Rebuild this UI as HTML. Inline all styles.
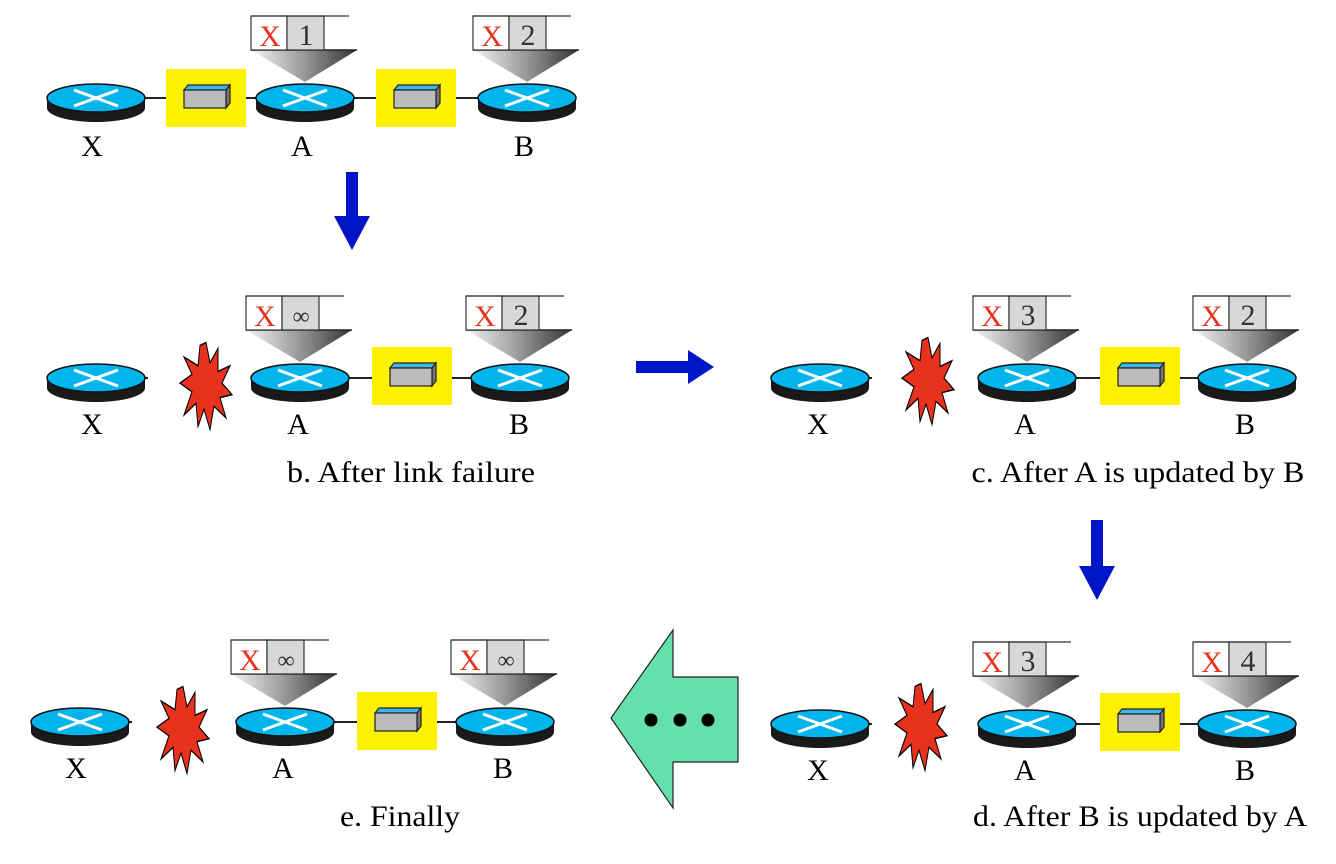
<!DOCTYPE html>
<html><head><meta charset="utf-8"><style>
html,body{margin:0;padding:0;background:#fff;}
svg{display:block;}
text{font-family:"Liberation Serif",serif;}
</style></head><body>
<svg width="1336" height="864" viewBox="0 0 1336 864" xmlns="http://www.w3.org/2000/svg">
<defs>
<linearGradient id="tg" x1="0" x2="1" y1="0" y2="0">
<stop offset="0" stop-color="#f4f4f4"/><stop offset="0.5" stop-color="#999"/><stop offset="1" stop-color="#333"/>
</linearGradient>
<g id="router">
<path d="M-49,0 L-49,10 A49,14 0 0 0 49,10 L49,0 Z" fill="#1a1a1a"/>
<ellipse cx="0" cy="0" rx="49" ry="14" fill="#00b4ec" stroke="#111" stroke-width="1.5"/>
<line x1="-22" y1="-8" x2="22" y2="8" stroke="#fff" stroke-width="3"/>
<line x1="-22" y1="8" x2="22" y2="-8" stroke="#fff" stroke-width="3"/>
</g>
<g id="sw">
<rect x="-40" y="-29" width="80" height="58" fill="#fff200"/>
<polygon points="-22,-8 -18,-13 24,-13 20,-8" fill="#3cb6e8" stroke="#222" stroke-width="1.2"/>
<polygon points="20,-8 24,-13 24,5 20,10" fill="#777" stroke="#222" stroke-width="1.2"/>
<rect x="-22" y="-8" width="42" height="18" fill="#bbb" stroke="#222" stroke-width="1.2"/>
</g>
<g id="tbl">
<polygon points="-54,-48 52,-48 0,-16" fill="url(#tg)"/>
<line x1="-54" y1="-48" x2="52" y2="-48" stroke="#222" stroke-width="1.5"/>
<rect x="-54" y="-82" width="36" height="34" fill="#fff" stroke="#333" stroke-width="1.2"/>
<rect x="-18" y="-82" width="37" height="34" fill="#d8d8d8" stroke="#333" stroke-width="1.2"/>
<line x1="-54" y1="-82" x2="44" y2="-82" stroke="#333" stroke-width="1.2"/>
</g>
<g id="burst"><g transform="scale(1,1.45)">
<polygon points="0,-30 4,-16 12,-26 12,-10 24,-14 16,-2 26,6 14,8 20,22 8,14 4,30 -2,16 -8,28 -10,12 -22,20 -14,4 -26,-2 -14,-8 -22,-20 -8,-14 -6,-28" fill="#e8321e" stroke="#000" stroke-width="1"/>
</g></g>
</defs>

<!-- Panel a -->
<line x1="96" y1="98" x2="527" y2="98" stroke="#222" stroke-width="2"/>
<use href="#sw" x="206" y="98"/>
<use href="#sw" x="416" y="98"/>
<use href="#router" x="96" y="98"/>
<use href="#router" x="305" y="98"/>
<use href="#router" x="527" y="98"/>
<use href="#tbl" x="305" y="98"/>
<use href="#tbl" x="527" y="98"/>
<g font-size="30" text-anchor="middle">
<text x="270" y="46" fill="#e8321e">X</text><text x="306" y="45" fill="#333">1</text>
<text x="492" y="46" fill="#e8321e">X</text><text x="528" y="45" fill="#333">2</text>
<text x="92" y="156">X</text><text x="302" y="156">A</text><text x="524" y="156">B</text>
</g>

<!-- Panel b -->
<line x1="96" y1="378" x2="148" y2="378" stroke="#222" stroke-width="2"/>
<line x1="300" y1="378" x2="520" y2="378" stroke="#222" stroke-width="2"/>
<use href="#sw" x="412" y="376"/>
<use href="#router" x="96" y="378"/>
<use href="#router" x="300" y="378"/>
<use href="#router" x="520" y="378"/>
<use href="#burst" x="206" y="386"/>
<use href="#tbl" x="300" y="378"/>
<use href="#tbl" x="520" y="378"/>
<g font-size="30" text-anchor="middle">
<text x="265" y="326" fill="#e8321e">X</text><text x="301" y="324" fill="#333" font-size="24">∞</text>
<text x="485" y="326" fill="#e8321e">X</text><text x="521" y="325" fill="#333">2</text>
<text x="92" y="434">X</text><text x="298" y="434">A</text><text x="519" y="434">B</text>
<text x="411" y="482" textLength="248" lengthAdjust="spacingAndGlyphs">b. After link failure</text>
</g>

<!-- Panel c -->
<line x1="820" y1="378" x2="872" y2="378" stroke="#222" stroke-width="2"/>
<line x1="1025" y1="378" x2="1245" y2="378" stroke="#222" stroke-width="2"/>
<use href="#sw" x="1140" y="376"/>
<use href="#router" x="820" y="378"/>
<use href="#router" x="1027" y="378"/>
<use href="#router" x="1247" y="378"/>
<use href="#burst" x="928" y="381"/>
<use href="#tbl" x="1027" y="378"/>
<use href="#tbl" x="1247" y="378"/>
<g font-size="30" text-anchor="middle">
<text x="992" y="326" fill="#e8321e">X</text><text x="1028" y="325" fill="#333">3</text>
<text x="1212" y="326" fill="#e8321e">X</text><text x="1248" y="325" fill="#333">2</text>
<text x="818" y="434">X</text><text x="1025" y="434">A</text><text x="1245" y="434">B</text>
<text x="1138" y="482" textLength="333" lengthAdjust="spacingAndGlyphs">c. After A is updated by B</text>
</g>

<!-- Panel d -->
<line x1="820" y1="724" x2="872" y2="724" stroke="#222" stroke-width="2"/>
<line x1="1025" y1="724" x2="1245" y2="724" stroke="#222" stroke-width="2"/>
<use href="#sw" x="1140" y="722"/>
<use href="#router" x="820" y="724"/>
<use href="#router" x="1027" y="724"/>
<use href="#router" x="1247" y="724"/>
<use href="#burst" x="921" y="727"/>
<use href="#tbl" x="1027" y="724"/>
<use href="#tbl" x="1247" y="724"/>
<g font-size="30" text-anchor="middle">
<text x="992" y="672" fill="#e8321e">X</text><text x="1028" y="671" fill="#333">3</text>
<text x="1212" y="672" fill="#e8321e">X</text><text x="1248" y="671" fill="#333">4</text>
<text x="818" y="780">X</text><text x="1025" y="780">A</text><text x="1245" y="780">B</text>
<text x="1140" y="826" textLength="334" lengthAdjust="spacingAndGlyphs">d. After B is updated by A</text>
</g>

<!-- Panel e -->
<line x1="80" y1="722" x2="132" y2="722" stroke="#222" stroke-width="2"/>
<line x1="285" y1="722" x2="505" y2="722" stroke="#222" stroke-width="2"/>
<use href="#sw" x="397" y="721"/>
<use href="#router" x="80" y="722"/>
<use href="#router" x="285" y="722"/>
<use href="#router" x="505" y="722"/>
<use href="#burst" x="183" y="730"/>
<use href="#tbl" x="285" y="722"/>
<use href="#tbl" x="505" y="722"/>
<g font-size="30" text-anchor="middle">
<text x="250" y="670" fill="#e8321e">X</text><text x="286" y="668" fill="#333" font-size="24">∞</text>
<text x="470" y="670" fill="#e8321e">X</text><text x="506" y="668" fill="#333" font-size="24">∞</text>
<text x="76" y="778">X</text><text x="283" y="778">A</text><text x="503" y="778">B</text>
<text x="400" y="826" textLength="120" lengthAdjust="spacingAndGlyphs">e. Finally</text>
</g>

<!-- Arrows -->
<polygon points="346,172 358,172 358,216 370,216 352,250 334,216 346,216" fill="#0015c8"/>
<polygon points="636,361 688,361 688,350 714,367 688,384 688,373 636,373" fill="#0015c8"/>
<polygon points="1091,520 1103,520 1103,566 1115,566 1097,600 1079,566 1091,566" fill="#0015c8"/>
<polygon points="611,718 673,630 673,677 738,677 738,762 673,762 673,808" fill="#66e0aa" stroke="#222" stroke-width="1.2"/>
<circle cx="651" cy="720" r="6.5" fill="#000"/>
<circle cx="680" cy="720" r="6.5" fill="#000"/>
<circle cx="708" cy="720" r="6.5" fill="#000"/>
</svg>
</body></html>
